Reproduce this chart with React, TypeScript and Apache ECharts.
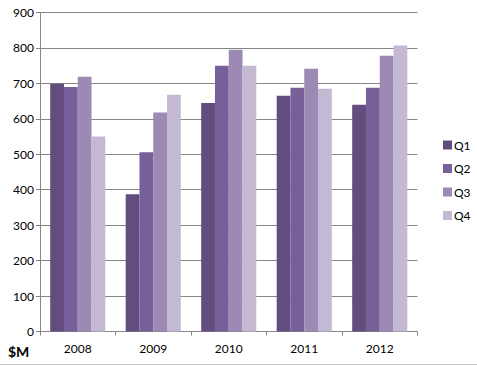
import React, { useEffect, useRef } from "react";
import * as echarts from "echarts";

const years = ["2008", "2009", "2010", "2011", "2012"];
const seriesNames = ["Q1", "Q2", "Q3", "Q4"];
const q1 = [699, 387, 645, 665, 640];
const q2 = [690, 506, 750, 688, 688];
const q3 = [719, 618, 795, 741, 778];
const q4 = [550, 668, 750, 685, 807];
const seriesValues = [q1, q2, q3, q4];
const colors = ["#624d7e", "#775f99", "#9c8ab4", "#c4b9d2"];

const FONT = "Lato, 'Open Sans', sans-serif";

export default function App() {
  const ref = useRef<HTMLDivElement>(null);
  useEffect(() => {
    const chart = echarts.init(ref.current!, undefined, { renderer: "svg" });
    chart.setOption({
      animation: false,
      backgroundColor: "#ffffff",
      grid: { left: 40, right: 59.5, top: 12.5, bottom: 36.5, containLabel: false },
      legend: {
        orient: "vertical",
        left: 438,
        top: 134,
        itemWidth: 9,
        itemHeight: 9,
        itemGap: 11.5,
        icon: "rect",
        data: seriesNames,
        textStyle: { fontFamily: FONT, fontSize: 12, color: "#000", padding: [0, 0, 0, -3] },
      },
      xAxis: {
        type: "category",
        data: years,
        axisLine: { lineStyle: { color: "#868686", width: 1 } },
        axisTick: { show: true, length: 4, lineStyle: { color: "#868686" } },
        axisLabel: { fontFamily: FONT, fontSize: 12, color: "#000", margin: 11 },
      },
      yAxis: {
        type: "value",
        min: 0,
        max: 900,
        interval: 100,
        axisLine: { show: true, lineStyle: { color: "#868686", width: 1 } },
        axisTick: { show: true, length: 4, lineStyle: { color: "#868686" } },
        splitLine: { lineStyle: { color: "#868686", width: 1 } },
        axisLabel: { fontFamily: FONT, fontSize: 12, color: "#000", margin: 6 },
      },
      graphic: [
        {
          type: "text",
          left: 8,
          top: 344,
          style: { text: "$M", font: `bold 14px ${FONT}`, fill: "#000" },
        },
        {
          type: "line",
          shape: { x1: 0, y1: 364.5, x2: 477, y2: 364.5 },
          style: { stroke: "#c8c8c8", lineWidth: 1 },
        },
      ],
      series: seriesNames.map((name, i) => ({
        name,
        type: "bar",
        data: seriesValues[i],
        itemStyle: { color: colors[i] },
        barGap: "0%",
        barCategoryGap: "27%",
      })),
    });
    return () => chart.dispose();
  }, []);
  return (
    <div
      ref={ref}
      style={{ position: "fixed", left: 0, top: 0, width: 477, height: 368 }}
    />
  );
}
